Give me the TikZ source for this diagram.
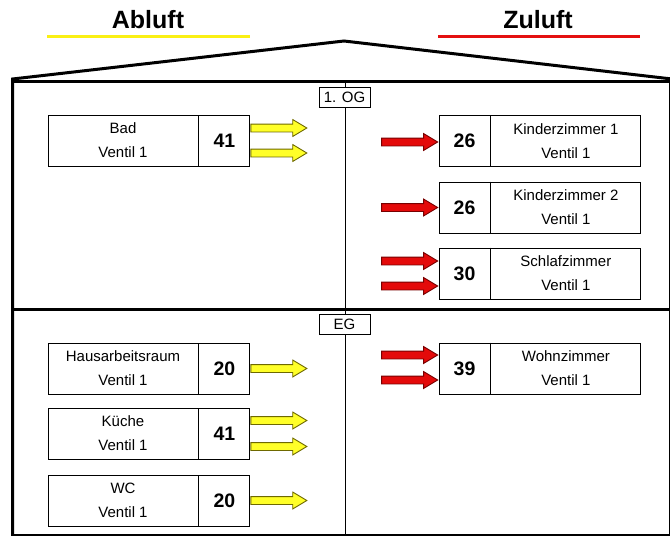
\documentclass[tikz,border=0pt]{standalone}
\usepackage{fontspec}
\setmainfont{Liberation Sans}
\usetikzlibrary{shapes.arrows}
\definecolor{ylw}{RGB}{250,240,20}
\definecolor{ylwfill}{RGB}{255,255,40}
\definecolor{ylwdraw}{RGB}{110,105,0}
\definecolor{redfill}{RGB}{228,10,10}
\definecolor{reddraw}{RGB}{120,0,0}
\definecolor{redline}{RGB}{228,16,16}
\begin{document}
\begin{tikzpicture}[x=1pt,y=-1pt,
  wall/.style={line width=3pt, line join=miter},
  namebox/.style={draw, line width=0.9pt, minimum width=150pt, minimum height=51pt, inner sep=0pt, align=center, font=\fontsize{15}{24}\selectfont},
  numbox/.style={draw, line width=0.9pt, minimum width=51pt, minimum height=51pt, inner sep=0pt, font=\bfseries\fontsize{19.5}{21}\selectfont},
  floorlbl/.style={draw, fill=white, line width=0.9pt, minimum width=51pt, minimum height=20pt, inner sep=0pt, font=\fontsize{15}{16}\selectfont},
  arrbase/.style={single arrow, minimum height=56pt, minimum width=0pt, inner sep=3.5pt, single arrow tip angle=62, single arrow head extend=4.5pt, line width=0.9pt},
  yarr/.style={arrbase, draw=ylwdraw, fill=ylwfill, anchor=tail},
  rarr/.style={arrbase, draw=reddraw, fill=redfill, anchor=tip},
  title/.style={font=\bfseries\fontsize{25}{28}\selectfont}
]
\useasboundingbox (0,0) rectangle (670,536);
% titles
\node[title] (abl) at (148,20) {Abluft};
\node[title] (zul) at (538,20) {Zuluft};
\draw[ylw, line width=3.5pt] (47,36.5) -- (250,36.5);
\draw[redline, line width=3.5pt] (438,36.5) -- (640,36.5);
% house
\draw[wall] (12.5,536) -- (12.5,79) -- (344,41) -- (672,79);
\draw[wall] (12.5,81) -- (672,81);
\draw[wall] (12.5,309) -- (672,309);
\draw[wall] (12.5,535) -- (672,535);
\draw[wall] (670.5,81) -- (670.5,536);
\draw[line width=0.9pt] (345,81) -- (345,535);
\node[floorlbl] (og) at (344.5,97) {1. OG};
\node[floorlbl] (eg) at (344.5,324) {EG};
% left boxes
\node[namebox] (bad) at (123,140.5) {Bad\\Ventil 1};
\node[numbox, anchor=west] (badn) at (bad.east) {41};
\node[namebox] (har) at (123,368.5) {Hausarbeitsraum\\Ventil 1};
\node[numbox, anchor=west] (harn) at (har.east) {20};
\node[namebox] (kue) at (123,433.5) {Küche\\Ventil 1};
\node[numbox, anchor=west] (kuen) at (kue.east) {41};
\node[namebox] (wc) at (123,500.5) {WC\\Ventil 1};
\node[numbox, anchor=west] (wcn) at (wc.east) {20};
% right boxes
\node[numbox] (k1n) at (464.5,141) {26};
\node[namebox, anchor=west] (k1) at (k1n.east) {Kinderzimmer 1\\Ventil 1};
\node[numbox] (k2n) at (464.5,207.5) {26};
\node[namebox, anchor=west] (k2) at (k2n.east) {Kinderzimmer 2\\Ventil 1};
\node[numbox] (szn) at (464.5,273.5) {30};
\node[namebox, anchor=west] (sz) at (szn.east) {Schlafzimmer\\Ventil 1};
\node[numbox] (wzn) at (464.5,368.5) {39};
\node[namebox, anchor=west] (wz) at (wzn.east) {Wohnzimmer\\Ventil 1};
\foreach \n in {k1n,k2n,szn,wzn}{\draw[line width=1.8pt] (\n.north east) -- (\n.south east);}
% yellow arrows (Abluft)
\node[yarr] (ba1) at ([yshift=12.5pt]badn.east) {};
\node[yarr] (ba2) at ([yshift=-12.5pt]badn.east) {};
\node[yarr] (ha1) at (harn.east) {};
\node[yarr] (ka1) at ([yshift=13pt]kuen.east) {};
\node[yarr] (ka2) at ([yshift=-13pt]kuen.east) {};
\node[yarr] (wa1) at (wcn.east) {};
% red arrows (Zuluft)
\node[rarr] (k1a) at ([yshift=-1pt]k1n.west) {};
\node[rarr] (k2a) at ([yshift=0pt]k2n.west) {};
\node[rarr] (sa1) at ([yshift=12.5pt]szn.west) {};
\node[rarr] (sa2) at ([yshift=-12.5pt]szn.west) {};
\node[rarr] (wa1r) at ([yshift=13.5pt]wzn.west) {};
\node[rarr] (wa2r) at ([yshift=-11.5pt]wzn.west) {};
\end{tikzpicture}
\end{document}
